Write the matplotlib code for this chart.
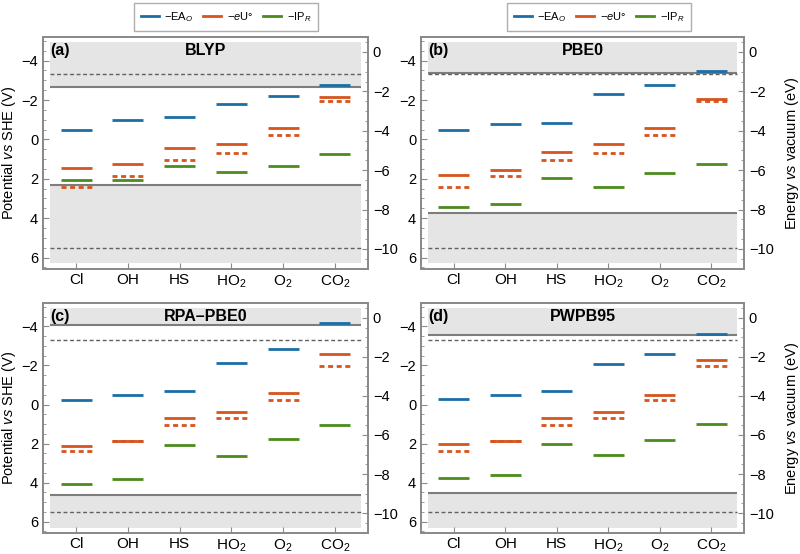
import numpy as np
import matplotlib.pyplot as plt
from matplotlib.lines import Line2D
from matplotlib.ticker import MultipleLocator

plt.rcParams['font.family'] = ['Liberation Sans', 'DejaVu Sans']
plt.rcParams['mathtext.fontset'] = 'custom'
plt.rcParams['mathtext.rm'] = 'Liberation Sans'
plt.rcParams['mathtext.it'] = 'Liberation Sans:italic'
plt.rcParams['mathtext.bf'] = 'Liberation Sans:bold'

# categories and panels
categories = ['Cl', 'OH', 'HS', 'HO$_2$', 'O$_2$', 'CO$_2$']
panel_names = ['BLYP', 'PBE0', 'RPA\u2013PBE0', 'PWPB95']
panel_tags = ['(a)', '(b)', '(c)', '(d)']

# potentials vs SHE (V)
ea_blyp = [-0.46, -0.97, -1.16, -1.79, -2.19, -2.78]
eu_blyp = [1.44, 1.26, 0.44, 0.24, -0.56, -2.15]
ip_blyp = [2.07, 2.07, 1.35, 1.67, 1.35, 0.73]

ea_pbe0 = [-0.46, -0.79, -0.82, -2.33, -2.75, -3.49]
eu_pbe0 = [1.83, 1.54, 0.62, 0.21, -0.60, -2.04]
ip_pbe0 = [3.44, 3.28, 1.95, 2.40, 1.72, 1.26]

ea_rpa = [-0.24, -0.51, -0.70, -2.11, -2.82, -4.19]
eu_rpa = [2.12, 1.87, 0.69, 0.37, -0.61, -2.60]
ip_rpa = [4.08, 3.79, 2.07, 2.64, 1.75, 1.07]

ea_pwpb = [-0.26, -0.47, -0.70, -2.08, -2.57, -3.63]
eu_pwpb = [2.02, 1.85, 0.69, 0.38, -0.47, -2.30]
ip_pwpb = [3.74, 3.62, 2.02, 2.58, 1.82, 0.99]

# reference eU° (dashed), same in every panel
eu_ref = [2.40, 1.87, 1.03, 0.69, -0.22, -1.97]

# band edges of each functional (solid gray) and water levels (dashed gray)
edge_top = [-2.67, -3.37, -4.09, -3.58]
edge_bot = [2.29, 3.74, 4.65, 4.51]
water_levels = [-3.30, 5.50]

she_shift = 4.44  # E(vac) = -4.44 - U(SHE)

ea_all = [ea_blyp, ea_pbe0, ea_rpa, ea_pwpb]
eu_all = [eu_blyp, eu_pbe0, eu_rpa, eu_pwpb]
ip_all = [ip_blyp, ip_pbe0, ip_rpa, ip_pwpb]

blue = '#1b6fa6'
orange = '#d7541d'
green = '#4b8c1d'
frame_col = '#8a8a8a'
fill_col = '#e5e5e5'

W, H = 800, 554
fig = plt.figure(figsize=(W / 100, H / 100), dpi=100)

boxes = [(43, 37, 368, 269), (421, 37, 744, 269),
         (43, 303, 368, 533), (421, 303, 744, 533)]

ylo, yhi = 6.58, -5.2
x = np.arange(len(categories))
hw = 0.3

for i in range(4):
    x0, y0, x1, y1 = boxes[i]
    ax = fig.add_axes([x0 / W, 1 - y1 / H, (x1 - x0) / W, (y1 - y0) / H])

    # shaded regions outside the band edges
    ax.fill_between([-0.5, 5.5], -4.95, edge_top[i], color=fill_col, lw=0, zorder=0)
    ax.fill_between([-0.5, 5.5], edge_bot[i], 6.3, color=fill_col, lw=0, zorder=0)
    ax.hlines([edge_top[i], edge_bot[i]], -0.5, 5.5, color='#7d7d7d', lw=1.5, zorder=1)
    ax.hlines(water_levels, -0.5, 5.5, color='#606060', lw=1.0,
              linestyles=[(0, (2.8, 1.9))], zorder=1)

    # energy levels
    ax.hlines(ea_all[i], x - hw, x + hw, color=blue, lw=2.0, zorder=3)
    ax.hlines(eu_all[i], x - hw, x + hw, color=orange, lw=2.0, zorder=3)
    ax.hlines(eu_ref, x - hw, x + hw, color=orange, lw=2.0,
              linestyles=[(0, (1.8, 1.3))], zorder=3)
    ax.hlines(ip_all[i], x - hw, x + hw, color=green, lw=2.0, zorder=3)

    ax.set_xlim(-0.64, 5.64)
    ax.set_ylim(ylo, yhi)
    ax.set_xticks(x)
    ax.set_xticklabels(categories, fontsize=11)
    ax.set_yticks([-4, -2, 0, 2, 4, 6])
    ax.yaxis.set_minor_locator(MultipleLocator(0.5))
    ax.tick_params(axis='y', which='both', direction='in', left=True, right=False,
                   color=frame_col, labelsize=10.5)
    ax.tick_params(axis='y', which='major', length=4)
    ax.tick_params(axis='y', which='minor', length=2.2)
    ax.tick_params(axis='x', direction='in', length=4, color=frame_col, pad=3)

    ax2 = ax.twinx()
    ax2.set_ylim(-she_shift - ylo, -she_shift - yhi)
    ax2.set_yticks([-10, -8, -6, -4, -2, 0])
    ax2.yaxis.set_minor_locator(MultipleLocator(0.5))
    ax2.tick_params(axis='y', which='both', direction='in', color=frame_col, labelsize=10.5)
    ax2.tick_params(axis='y', which='major', length=4)
    ax2.tick_params(axis='y', which='minor', length=2.2)

    for a in (ax, ax2):
        for sp in a.spines.values():
            sp.set_color(frame_col)
            sp.set_linewidth(1.3)

    ax.text(0.022, 0.975, panel_tags[i], transform=ax.transAxes, ha='left', va='top',
            fontsize=11.5, fontweight='bold')
    ax.text(0.5, 0.975, panel_names[i], transform=ax.transAxes, ha='center', va='top',
            fontsize=11.5, fontweight='bold')

# axis labels for the rows
for yc in [(37 + 269) / 2, (303 + 533) / 2]:
    fig.text(0.011, 1 - yc / H, 'Potential $vs$ SHE (V)', rotation=90,
             ha='center', va='center', fontsize=10.5)
    fig.text(0.990, 1 - yc / H, 'Energy $vs$ vacuum (eV)', rotation=90,
             ha='center', va='center', fontsize=10.5)

# legends above each column
handles = [Line2D([], [], color=blue, lw=2), Line2D([], [], color=orange, lw=2),
           Line2D([], [], color=green, lw=2)]
labels = ['\u2212EA$_O$', '\u2212$e$U\u00b0', '\u2212IP$_R$']
for xc in [226, 599]:
    leg = fig.legend(handles, labels, loc='center', ncol=3,
                     bbox_to_anchor=(xc / W, 1 - 17 / H), fontsize=8,
                     frameon=True, fancybox=False, edgecolor='#9a9a9a',
                     handlelength=1.6, handletextpad=0.5, columnspacing=0.9,
                     borderpad=0.6)
    leg.get_frame().set_linewidth(1.0)

fig.savefig('out.png', dpi=100)
